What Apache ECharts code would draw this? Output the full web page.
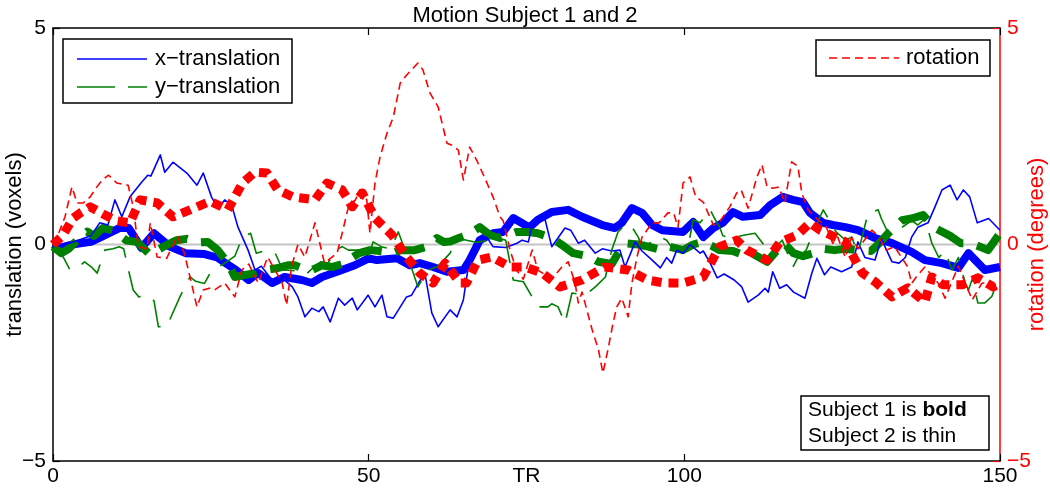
<!DOCTYPE html>
<html>
<head>
<meta charset="utf-8">
<script src="https://cdn.jsdelivr.net/npm/echarts@6/dist/echarts.min.js"></script>
<style>
html,body{margin:0;padding:0;background:#fff;}
#chart{width:1050px;height:495px;}
</style>
</head>
<body>
<div id="chart"></div>
<script>
// ---- data: [TR, value] ----
const xTicks = [0, 50, 100, 150];
const yTicks = [-5, 0, 5];
const zeroLine = [[0, 0], [150, 0]];

const xTrans1 = [[0,0],[1,-0.08],[3,0.0],[6,0.06],[8,0.2],[10.5,0.38],[12,0.38],[14,-0.08],[16,0.26],[18.5,-0.05],[21,-0.2],[24,-0.22],[26,-0.3],[29,-0.59],[31,-0.82],[32.5,-0.66],[34.7,-0.89],[36.7,-0.75],[39.4,-0.82],[41,-0.89],[42.6,-0.75],[45,-0.63],[47.8,-0.48],[50,-0.32],[51.3,-0.36],[54.5,-0.32],[56.5,-0.48],[58.1,-0.43],[60.2,-0.52],[62.4,-0.63],[65,-0.59],[66,-0.36],[67.6,0.1],[69.7,0.26],[71.3,0.29],[72.9,0.61],[74.8,0.45],[75.5,0.4],[76.8,0.57],[79,0.75],[81.6,0.8],[83.8,0.64],[87,0.45],[89,0.38],[90.1,0.5],[91.7,0.84],[93.3,0.73],[94.9,0.45],[96.5,0.33],[99.8,0.29],[101.4,0.52],[103,0.17],[104.6,0.38],[106.1,0.5],[107.7,0.75],[109.3,0.64],[112,0.68],[113.6,0.91],[115.6,1.1],[117.2,1.03],[118.8,0.98],[119.9,0.73],[122,0.5],[123.5,0.45],[125.5,0.4],[127.5,0.33],[130.2,0.15],[132.9,0.03],[136,-0.17],[138.1,-0.36],[140.8,-0.43],[143.4,-0.54],[145,-0.2],[147.6,-0.59],[150,-0.52]];

const xTrans2 = [[0,-0.05],[2,0.0],[4,0.1],[6,0.2],[7.4,0.5],[8.7,0.45],[9.8,1.03],[10.9,0.64],[12.2,1.1],[14.1,1.45],[15,1.6],[15.5,1.58],[17,2.07],[17.7,1.67],[19,1.9],[21.2,1.65],[22.8,1.37],[23.8,1.65],[25.1,1.1],[26.1,0.84],[27.2,1.03],[28.3,0.91],[29.3,0.4],[30.9,-0.13],[32,-0.59],[33,-0.5],[34.7,-0.82],[36.1,-0.75],[37.9,-0.98],[38.8,-1.21],[39.9,-1.67],[41,-1.47],[42.1,-1.55],[42.8,-1.44],[43.9,-1.79],[45.2,-1.24],[46.2,-1.4],[47.4,-1.24],[48.2,-1.51],[49.9,-1.17],[51,-1.44],[52.1,-1.17],[52.9,-1.67],[53.9,-1.7],[56,-1.21],[56.8,-1.17],[57.9,-0.89],[58.9,-0.66],[60,-1.58],[61,-1.9],[62.9,-1.51],[64,-1.67],[65,-1.28],[65.7,-0.59],[66.8,-0.13],[68.7,0.17],[69.7,-0.05],[71.7,-0.07],[73.5,0.03],[74.3,0.1],[75.3,0.06],[75.9,0.45],[76.8,0.64],[77.9,0.6],[79,-0.05],[81.1,0.38],[82,0.33],[83.2,0.03],[84.2,0.1],[85.9,-0.2],[87,-0.1],[88.5,-0.15],[89.8,-0.13],[90.6,-0.52],[91.5,-0.2],[92.2,0.06],[93.3,-0.15],[94.9,-0.36],[96.2,-0.54],[97.2,-0.3],[98,-0.43],[98.8,-0.13],[99.8,-0.2],[100.9,0.0],[102.5,-0.2],[103,-0.15],[104.1,-0.43],[105.2,-0.77],[106.3,-0.68],[107.9,-0.82],[109.1,-0.98],[110.1,-1.33],[111.7,-1.17],[112.8,-1.01],[113.3,-1.1],[114,-0.63],[115.1,-1.01],[116.2,-0.93],[117.3,-1.1],[119.1,-1.24],[120.2,-0.66],[121,-0.32],[122.2,-0.7],[123.2,-0.52],[124.9,-0.63],[126.5,-0.52],[127.5,0.06],[128.6,-0.3],[130.2,-0.36],[131.2,0.13],[132.9,-0.4],[134,-0.43],[135,-0.3],[136,0.17],[137,0.4],[138.6,0.5],[139.7,0.87],[140.8,1.26],[142.1,1.37],[143.2,1.03],[144.2,1.26],[145.2,1.1],[146.4,0.5],[148.2,0.6],[150,0.33]];

const yTrans1 = [[0,-0.05],[1.3,-0.2],[2.5,-0.1],[4.3,0.17],[5.4,0.3],[6.5,0.2],[7.9,0.38],[9.5,0.33],[10.6,0.2],[11.7,0.09],[13.3,0.06],[15.4,-0.24],[17.5,-0.05],[19.6,0.1],[21.2,0.13],[23,0.05],[24.5,0.06],[26.1,-0.13],[27.7,-0.43],[28.8,-0.75],[30.5,-0.7],[32,-0.66],[33.5,-0.59],[35.4,-0.55],[37.2,-0.48],[38.3,-0.48],[39.5,-0.55],[41,-0.59],[42.6,-0.48],[44.2,-0.52],[45.8,-0.45],[46.8,-0.36],[48.5,-0.2],[50.2,-0.13],[51.8,-0.15],[53.9,-0.2],[55,-0.13],[57.3,-0.13],[59.2,-0.05],[60.8,0.15],[61.9,0.06],[62.9,0.07],[64.3,0.15],[65.6,0.22],[67.6,0.4],[69.2,0.22],[70.8,0.15],[72,0.22],[73.4,0.29],[75.3,0.29],[76.8,0.26],[78,0.2],[79.5,0.1],[81,-0.05],[82.4,-0.2],[84.8,-0.27],[86.4,-0.4],[88.5,-0.45],[89.5,-0.2],[90.6,0.03],[92.7,0.0],[94.3,-0.05],[96.4,-0.13],[97.7,-0.05],[99.8,-0.13],[101.4,0.0],[103,0.06],[104.6,-0.05],[105.6,-0.13],[107.7,-0.15],[109.3,-0.24],[110.9,-0.22],[113.1,-0.4],[114.7,-0.13],[115.8,0.03],[117.3,-0.2],[118.8,-0.27],[120.4,-0.2],[122,-0.1],[123.8,-0.13],[125.5,-0.1],[127.5,-0.13],[129.6,-0.15],[131,0.05],[132.3,0.26],[134.5,0.56],[136,0.6],[137.8,0.68],[139.7,0.38],[142.1,0.2],[143.8,0.03],[145.4,0.03],[146.8,-0.05],[148.1,-0.13],[150,0.26]];

const yTrans2 = [[0,0],[1.3,-0.2],[2.7,-0.59],[4,-0.52],[5,-0.4],[6.1,-0.52],[7,-0.66],[8.2,-0.13],[9.5,-0.1],[10.5,-0.05],[11.2,-0.1],[11.7,-0.43],[12.7,-1.05],[13.6,-1.21],[14.9,-1.17],[16,-1.3],[16.7,-1.9],[18,-1.9],[20.1,-1.21],[21.7,-0.75],[22.6,-0.85],[24,-0.9],[25.1,-0.6],[27,-0.45],[28.8,-0.27],[30,0.17],[31.3,0.26],[32.2,-0.2],[34,-0.13],[35.2,-0.2],[36.4,-0.59],[38,-0.6],[40,-0.7],[41.1,-0.55],[42.4,-0.4],[43.5,-0.45],[44.7,-0.13],[45.8,-0.05],[46.8,-0.13],[49,-0.13],[49.7,-0.4],[50.7,0.06],[52,-0.05],[53.5,-0.1],[54.7,0.29],[55.3,0.05],[56,-0.2],[57.8,-0.98],[58.5,-0.8],[59.2,-0.6],[61,-0.5],[62.9,-0.2],[64,0.15],[65.5,0.1],[67,0.05],[69.2,0.1],[70.2,0.17],[71.7,0.1],[72.9,-0.82],[74.5,-0.86],[75.9,-1.21],[76.8,-1.44],[78.4,-1.44],[79,-1.37],[80,-1.44],[81.1,-1.82],[82.2,-1.12],[83.5,-1.15],[84.7,-1.12],[85.9,-0.98],[87.5,-0.75],[88.5,-0.13],[89.5,0.29],[90.6,0.45],[91.5,0.45],[92.7,0.17],[93.3,-0.05],[94.9,0.06],[96.2,0.17],[97.2,0.1],[98.3,-0.13],[99.5,-0.05],[100.5,-0.13],[101.4,0.57],[102.5,0.5],[104.1,0.8],[104.8,0.6],[105.6,0.4],[106.1,0.2],[107.5,0.15],[109.6,0.22],[111.2,0.26],[113.6,-0.2],[115.5,0.1],[117.2,-0.52],[118,-0.3],[119.3,-0.13],[120.9,0.45],[122,0.8],[122.8,0.6],[124,0.3],[125.5,0.1],[126.5,0.17],[127.5,-0.2],[129.1,0.72],[130.7,0.8],[131.2,0.6],[132.3,0.26],[133.5,0.3],[135,0.45],[136,0.55],[137,0.45],[138.1,0.6],[139.2,0.03],[140.3,-0.3],[141.3,-0.15],[142.4,-0.59],[143.4,-0.3],[144.5,-0.89],[145,-1.05],[145.6,-0.8],[146.5,-1.35],[147.6,-1.35],[148.7,-1.2],[149.7,-0.82]];

const rot1 = [[0,0],[1.5,0.2],[3.2,0.61],[4.5,0.75],[5.9,0.87],[8,0.7],[10,0.55],[12.2,0.5],[13.8,1.03],[16.5,0.96],[19,0.64],[21.7,0.8],[24.9,1.0],[27.7,0.8],[30,1.42],[32,1.67],[33.9,1.65],[35.6,1.26],[38,1.1],[41.5,1.03],[43.4,1.42],[45.8,1.26],[47.4,0.87],[49,1.19],[51,0.61],[53.7,0.22],[56,-0.29],[58.1,-0.66],[60.2,-0.89],[62.1,-0.43],[64.5,-0.89],[65.5,-0.89],[67.3,-0.36],[69.5,-0.29],[72.4,-0.52],[74.8,-0.52],[77.5,-0.66],[80.3,-0.98],[83.8,-0.82],[87.4,-0.52],[91.1,-0.59],[94.2,-0.82],[96.9,-0.89],[99.8,-0.89],[103,-0.75],[105.6,-0.05],[108.3,0.1],[109.9,-0.13],[113.1,-0.36],[115.2,0.06],[117.9,0.22],[119.9,0.5],[121.5,0.33],[123.9,0.17],[125.5,0.06],[128.2,-0.66],[130.2,-0.86],[132.9,-1.21],[135.4,-1.0],[138.1,-1.33],[139.2,-0.75],[141,-0.93],[144.1,-0.93],[146.5,-0.77],[148.9,-0.98],[150,-0.9]];

const rot2 = [[0,0],[1,0.3],[1.9,0.64],[3,1.33],[3.8,0.96],[4.8,0.96],[5.9,1.1],[6.8,1.3],[7.8,1.49],[8.8,1.6],[10.1,1.42],[11.9,1.37],[12.7,0.87],[13.5,-0.05],[14.9,-0.1],[15.4,0.5],[16.5,-0.29],[18,-0.32],[19.7,0.2],[20.8,-0.2],[21.7,-0.75],[22.8,-1.44],[23.8,-1.05],[25,-1.0],[25.6,-1.05],[27.2,-0.89],[28.8,-1.21],[29.9,-0.59],[31,-0.45],[32.5,-0.89],[34,-0.29],[35.2,-0.6],[36.3,-0.89],[37,-1.4],[37.8,-0.5],[38.8,0.0],[39.9,-0.29],[41.5,0.5],[43,-0.43],[45,-0.2],[45.8,0.26],[46.8,0.87],[47.9,1.03],[48.6,1.26],[49.7,1.03],[50.2,0.26],[51,1.42],[51.8,2.02],[52.9,2.57],[53.9,2.94],[55,3.73],[56,3.91],[57.8,4.19],[58.6,4.03],[59.7,3.5],[61,3.18],[62.4,2.34],[63.1,2.3],[64.2,2.18],[65,1.49],[66,2.25],[67.1,1.95],[68.2,1.6],[69.7,1.1],[70.8,0.64],[71.3,0.55],[72.4,-0.13],[73.4,-0.59],[74.5,-0.8],[75.9,-0.13],[76.8,-0.59],[79,-0.8],[80.6,-0.52],[81.6,-0.4],[82.7,-0.89],[83.2,-1.35],[83.8,-1.1],[85.4,-1.97],[86.4,-2.43],[87.1,-2.97],[87.9,-2.43],[88.7,-1.82],[89.3,-1.44],[90.1,-1.24],[91.1,-1.67],[91.7,-0.89],[92.5,-0.29],[93.3,0.17],[94.9,0.5],[96,0.5],[97.4,0.73],[98.3,0.73],[99,0.4],[99.8,1.42],[100.9,1.56],[101.8,1.1],[103,0.98],[104.6,0.45],[105.5,0.5],[107.2,0.87],[108.3,1.19],[109,1.26],[110.1,0.84],[111.5,1.56],[112.3,1.84],[113.1,1.33],[114,1.3],[115,1.33],[115.9,0.96],[117,1.91],[118,1.8],[118.6,1.19],[119.6,0.8],[120.7,0.64],[121.7,0.5],[122.5,0.4],[123.5,0.03],[124.3,0.17],[125.5,-0.3],[126.5,0.17],[127.5,-0.1],[129.7,0.33],[130.7,0.2],[132,-0.13],[133.3,-0.05],[135.4,-0.52],[136,-0.9],[137,-0.7],[138.1,-0.52],[140.2,-0.89],[141.3,-1.24],[143.4,-0.5],[144.5,-0.89],[145.6,-1.28],[147.1,-0.9],[148.5,-0.85],[149.7,-0.97]];

// ---- chart ----
const FONT = 'Liberation Sans, Arial, sans-serif';
const BLUE = '#0000ff', GREEN = '#008000', RED = '#ff0000';
const minus = v => String(v).replace('-', '\u2212');

const chart = echarts.init(document.getElementById('chart'));

function lineSeries(name, data, color, width, dash, yIdx, z) {
  return {
    name: name, type: 'line', data: data, yAxisIndex: yIdx,
    showSymbol: false, symbol: 'none', animation: false, silent: true, z: z,
    lineStyle: { color: color, width: width, type: dash, cap: 'butt', join: 'round' }
  };
}

chart.setOption({
  animation: false,
  backgroundColor: '#ffffff',
  title: {
    text: 'Motion Subject 1 and 2', left: 'center', top: 0,
    textStyle: { fontFamily: FONT, fontSize: 22, fontWeight: 'normal', color: '#000' }
  },
  grid: { left: 53, right: 50, top: 28, bottom: 34, containLabel: false, outerBoundsMode: 'none' },
  xAxis: [
    {
      type: 'value', min: 0, max: 150, interval: 50, position: 'bottom',
      name: 'TR', nameLocation: 'middle', nameGap: 5, nameMoveOverlap: false,
      nameTextStyle: { fontFamily: FONT, fontSize: 21, color: '#000', verticalAlign: 'top' },
      axisLine: { show: true, onZero: false, lineStyle: { color: '#000', width: 1.5 } },
      axisTick: { show: true, inside: true, length: 7, lineStyle: { color: '#000', width: 1.2 } },
      axisLabel: { fontFamily: FONT, fontSize: 21, color: '#000', margin: 5, formatter: minus },
      splitLine: { show: false }
    },
    {
      type: 'value', min: 0, max: 150, interval: 50, position: 'top',
      axisLine: { show: true, onZero: false, lineStyle: { color: '#000', width: 1.5 } },
      axisTick: { show: true, inside: true, length: 7, lineStyle: { color: '#000', width: 1.2 } },
      axisLabel: { show: false }, splitLine: { show: false }
    }
  ],
  yAxis: [
    {
      type: 'value', min: -5, max: 5, interval: 5, position: 'left',
      name: 'translation (voxels)', nameLocation: 'middle', nameGap: 27, nameRotate: 90,
      nameMoveOverlap: false,
      nameTextStyle: { fontFamily: FONT, fontSize: 22, color: '#000' },
      axisLine: { show: true, onZero: false, lineStyle: { color: '#000', width: 1.5 } },
      axisTick: { show: true, inside: true, length: 7, lineStyle: { color: '#000', width: 1.2 } },
      axisLabel: { fontFamily: FONT, fontSize: 21, color: '#000', margin: 7, formatter: minus },
      splitLine: { show: false }
    },
    {
      type: 'value', min: -5, max: 5, interval: 5, position: 'right',
      name: 'rotation (degrees)', nameLocation: 'middle', nameGap: 26, nameRotate: 90,
      nameMoveOverlap: false,
      nameTextStyle: { fontFamily: FONT, fontSize: 22, color: RED },
      axisLine: { show: true, onZero: false, lineStyle: { color: RED, width: 1.5 } },
      axisTick: { show: true, inside: true, length: 7, lineStyle: { color: RED, width: 1.2 } },
      axisLabel: { fontFamily: FONT, fontSize: 21, color: RED, margin: 7, formatter: minus },
      splitLine: { show: false }
    }
  ],
  series: [
    lineSeries('zero', zeroLine, '#c4c4c4', 2, 'solid', 0, 1),
    lineSeries('x-translation S1', xTrans1, BLUE, 8, 'solid', 0, 2),
    lineSeries('y-translation S1', yTrans1, GREEN, 8, [30, 14], 0, 3),
    lineSeries('x-translation S2', xTrans2, BLUE, 1.6, 'solid', 0, 4),
    lineSeries('y-translation S2', yTrans2, GREEN, 1.6, [30, 14], 0, 5),
    lineSeries('rotation S1', rot1, RED, 9, [10, 7], 1, 6),
    lineSeries('rotation S2', rot2, RED, 1.6, [8, 5], 1, 7)
  ],
  graphic: [
    // left legend
    { type: 'rect', shape: { x: 63, y: 39, width: 229, height: 64 },
      style: { fill: '#fff', stroke: '#000', lineWidth: 1.5 }, z: 100 },
    { type: 'line', shape: { x1: 77, y1: 59, x2: 147, y2: 59 },
      style: { stroke: BLUE, lineWidth: 1.6 }, z: 101 },
    { type: 'text', x: 155, y: 59, z: 101,
      style: { text: 'x\u2212translation', font: '22px ' + FONT, fill: '#000', verticalAlign: 'middle' } },
    { type: 'line', shape: { x1: 77, y1: 87, x2: 147, y2: 87 },
      style: { stroke: GREEN, lineWidth: 1.6, lineDash: [38, 13] }, z: 101 },
    { type: 'text', x: 155, y: 87, z: 101,
      style: { text: 'y\u2212translation', font: '22px ' + FONT, fill: '#000', verticalAlign: 'middle' } },
    // right legend
    { type: 'rect', shape: { x: 816, y: 40, width: 174, height: 36 },
      style: { fill: '#fff', stroke: '#000', lineWidth: 1.5 }, z: 100 },
    { type: 'line', shape: { x1: 829, y1: 58, x2: 899, y2: 58 },
      style: { stroke: RED, lineWidth: 1.6, lineDash: [8, 5] }, z: 101 },
    { type: 'text', x: 906, y: 58, z: 101,
      style: { text: 'rotation', font: '22px ' + FONT, fill: '#000', verticalAlign: 'middle' } },
    // annotation box
    { type: 'rect', shape: { x: 801, y: 396, width: 188, height: 54 },
      style: { fill: '#fff', stroke: '#000', lineWidth: 1.5 }, z: 100 },
    { type: 'text', x: 808, y: 410, z: 101,
      style: { text: '{n|Subject 1 is }{b|bold}', verticalAlign: 'middle',
        rich: { n: { fontFamily: FONT, fontSize: 21, color: '#000' },
                b: { fontFamily: FONT, fontSize: 21, fontWeight: 'bold', color: '#000' } } } },
    { type: 'text', x: 808, y: 436, z: 101,
      style: { text: 'Subject 2 is thin', font: '21px ' + FONT, fill: '#000', verticalAlign: 'middle' } }
  ]
});
</script>
</body>
</html>
